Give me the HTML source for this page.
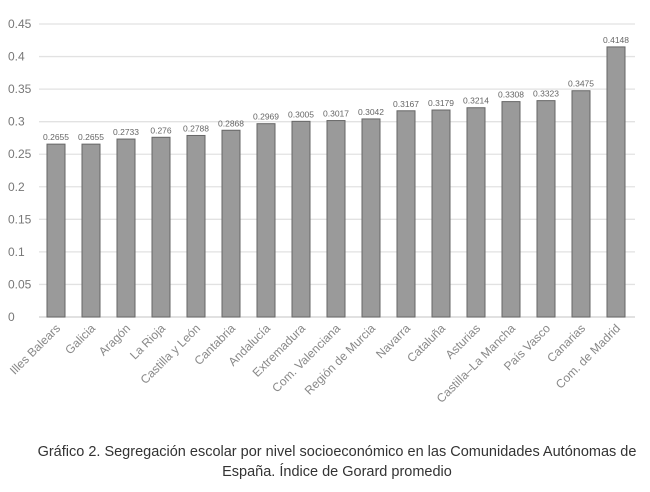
<!DOCTYPE html>
<html><head><meta charset="utf-8"><style>
body{margin:0;background:#fff;width:650px;height:487px;overflow:hidden;font-family:"Liberation Sans",sans-serif}
</style></head><body>
<svg width="650" height="487" xmlns="http://www.w3.org/2000/svg" font-family="Liberation Sans, sans-serif">
<g id="g"></g>
<text x="337" y="456" text-anchor="middle" font-size="14.5" fill="#333">Gráfico 2. Segregación escolar por nivel socioeconómico en las Comunidades Autónomas de</text>
<text x="337" y="476" text-anchor="middle" font-size="14.5" fill="#333">España. Índice de Gorard promedio</text>
</svg>
<script>
const g=document.getElementById('g');
const names=["Illes Balears","Galicia","Aragón","La Rioja","Castilla y León","Cantabria","Andalucía","Extremadura","Com. Valenciana","Región de Murcia","Navarra","Cataluña","Asturias","Castilla–La Mancha","País Vasco","Canarias","Com. de Madrid"];
const vals=["0.2655","0.2655","0.2733","0.276","0.2788","0.2868","0.2969","0.3005","0.3017","0.3042","0.3167","0.3179","0.3214","0.3308","0.3323","0.3475","0.4148"];
const y0=317,k=(317-24)/0.45;
let s='';
for(let i=0;i<=9;i++){const v=i*0.05,y=y0-v*k;
s+=`<line x1="39" x2="635" y1="${y}" y2="${y}" stroke="${i?'#e2e2e2':'#cfcfcf'}" stroke-width="1.3"/>`;
s+=`<text x="8" y="${y+4}" font-size="12" fill="#777">${i?+v.toFixed(2):0}</text>`;}
names.forEach((n,i)=>{const cx=56+i*35,h=vals[i]*k,y=y0-h;
s+=`<rect x="${cx-9}" y="${y}" width="18" height="${h}" fill="#9a9a9a" stroke="#666" stroke-width="1"/>`;
s+=`<text x="${cx}" y="${y-4}" text-anchor="middle" font-size="8.5" fill="#666">${vals[i]}</text>`;
s+=`<text transform="translate(${cx+5},${y0+12}) rotate(-45)" text-anchor="end" font-size="12" fill="#888">${n}</text>`;});
g.innerHTML=s;
</script>
</body></html>
